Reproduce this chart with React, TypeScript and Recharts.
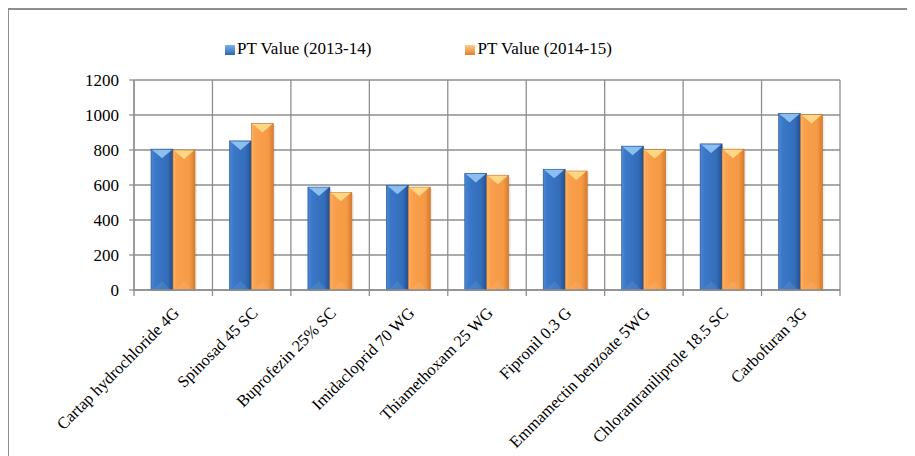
import React from 'react';
import { BarChart, Bar, XAxis, YAxis, CartesianGrid, Legend } from 'recharts';

const categories = [
  'Cartap hydrochloride 4G',
  'Spinosad 45 SC',
  'Buprofezin 25% SC',
  'Imidacloprid 70 WG',
  'Thiamethoxam 25 WG',
  'Fipronil 0.3 G',
  'Emmamectin benzoate 5WG',
  'Chlorantraniliprole 18.5 SC',
  'Carbofuran 3G',
];
const pt2013 = [805, 852, 588, 598, 666, 690, 822, 835, 1008];
const pt2014 = [800, 952, 558, 588, 656, 680, 803, 805, 1003];
const yTicks = [0, 200, 400, 600, 800, 1000, 1200];

const seriesNames = ['PT Value (2013-14)', 'PT Value (2014-15)'];

const data = categories.map((name, i) => ({ name, a: pt2013[i], b: pt2014[i] }));

const FONT = "'Liberation Serif', 'Times New Roman', serif";
const GRID = '#8e8e8e';
const FS = 17;

const BevelBar = (props: any) => {
  const { x, y, width, height, kind } = props;
  if (!height || height <= 0) return null;
  const tri = kind === 'a' ? '#8fc3f2' : '#ffd987';
  const edge = kind === 'a' ? '#1f4e8c' : '#c8752a';
  const h = Math.min(9, height / 2);
  return (
    <g>
      <rect x={x + 2} y={y + 2} width={width} height={height - 2} fill="#000" opacity={0.08} />
      <rect x={x} y={y} width={width} height={height} fill={`url(#grad-${kind})`} stroke={edge} strokeWidth={0.6} />
      <polygon points={`${x + 1},${y + 0.5} ${x + width - 1},${y + 0.5} ${x + width / 2},${y + h}`} fill={tri} opacity={0.95} />
      <polygon points={`${x + 2},${y + height} ${x + width - 2},${y + height} ${x + width / 2},${y + height - h}`} fill="#fff" opacity={0.08} />
    </g>
  );
};

const XTick = (props: any) => {
  const { x, y, payload, index } = props;
  const band = 706 / categories.length;
  const ax = x + 7;
  const ay = y + 16;
  return (
    <g>
      <line x1={x - band / 2} x2={x - band / 2} y1={y - 8} y2={y - 2} stroke={GRID} strokeWidth={1.3} />
      {index === categories.length - 1 && (
        <line x1={x + band / 2} x2={x + band / 2} y1={y - 8} y2={y - 2} stroke={GRID} strokeWidth={1.3} />
      )}
      <text
        x={ax}
        y={ay}
        transform={`rotate(-45, ${ax}, ${ay})`}
        textAnchor="end"
        style={{ fontFamily: FONT }}
        fontSize={16.5}
        fill="#000"
      >
        {payload.value}
      </text>
    </g>
  );
};

const YTick = (props: any) => {
  const { x, y, payload } = props;
  return (
    <text x={x - 1} y={y} dy={6} textAnchor="end" style={{ fontFamily: FONT }} fontSize={FS} fill="#000">
      {payload.value}
    </text>
  );
};

const LegendContent = () => (
  <div style={{ display: 'flex', gap: 94, fontFamily: FONT, fontSize: FS, color: '#000', whiteSpace: 'nowrap' }}>
    {seriesNames.map((n, i) => (
      <div key={n} style={{ display: 'flex', alignItems: 'center', fontFamily: FONT }}>
        <span
          style={{
            display: 'inline-block',
            width: 10,
            height: 10,
            marginRight: 2,
            marginTop: 2,
            background: i === 0 ? 'linear-gradient(#7fb0ea, #2d64ad)' : 'linear-gradient(#ffd08a, #e0802c)',
          }}
        />
        <span style={{ fontFamily: FONT }}>{n}</span>
      </div>
    ))}
  </div>
);

export default function App() {
  return (
    <div style={{ borderTop: `2px solid ${GRID}`, borderLeft: `2px solid ${GRID}`, marginLeft: -1, width: 920, height: 460, background: '#fff', fontFamily: FONT }}>
      <BarChart
        width={907}
        height={446}
        data={data}
        margin={{ top: 70, right: 76, left: 0, bottom: 0 }}
        barCategoryGap={17}
        barGap={0}
      >
        <defs>
          <linearGradient id="grad-a" x1="0" y1="0" x2="1" y2="0">
            <stop offset="0%" stopColor="#4c88d6" />
            <stop offset="18%" stopColor="#3b78c8" />
            <stop offset="75%" stopColor="#336db9" />
            <stop offset="100%" stopColor="#244f8f" />
          </linearGradient>
          <linearGradient id="grad-b" x1="0" y1="0" x2="1" y2="0">
            <stop offset="0%" stopColor="#fbb264" />
            <stop offset="18%" stopColor="#f9a04c" />
            <stop offset="75%" stopColor="#f59a45" />
            <stop offset="100%" stopColor="#d67c30" />
          </linearGradient>
        </defs>
        <CartesianGrid
          stroke={GRID}
          strokeWidth={1.3}
          verticalCoordinatesGenerator={({ offset }: any) =>
            Array.from({ length: categories.length + 1 }, (_, i) => offset.left + (i * offset.width) / categories.length)
          }
        />
        <XAxis
          dataKey="name"
          interval={0}
          height={166}
          tickLine={false}
          axisLine={{ stroke: GRID, strokeWidth: 1.3 }}
          tick={<XTick />}
        />
        <YAxis
          width={125}
          domain={[0, 1200]}
          ticks={yTicks}
          tickSize={5}
          tickMargin={9}
          axisLine={{ stroke: GRID, strokeWidth: 1.3 }}
          tickLine={{ stroke: GRID, strokeWidth: 1.3 }}
          tick={<YTick />}
        />
        <Legend
          layout="horizontal"
          verticalAlign="middle"
          align="center"
          content={<LegendContent />}
          wrapperStyle={{ top: 29, left: 216, width: 'auto' }}
        />
        <Bar dataKey="a" name={seriesNames[0]} shape={(p: any) => <BevelBar {...p} kind="a" />} isAnimationActive={false} />
        <Bar dataKey="b" name={seriesNames[1]} shape={(p: any) => <BevelBar {...p} kind="b" />} isAnimationActive={false} />
      </BarChart>
    </div>
  );
}
